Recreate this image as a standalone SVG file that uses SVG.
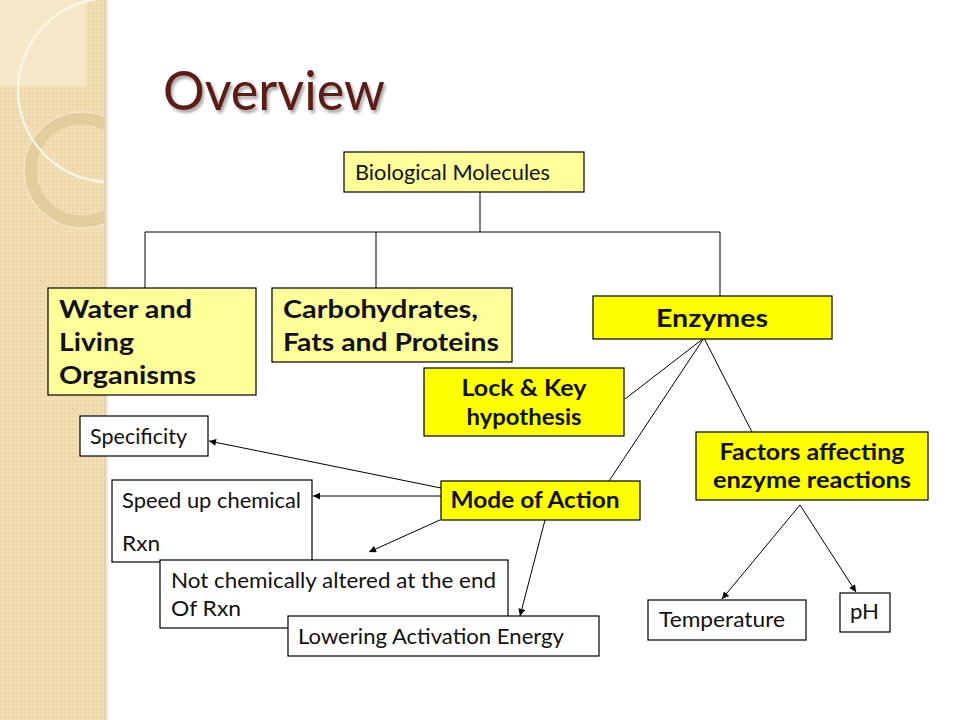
<svg xmlns="http://www.w3.org/2000/svg" width="960" height="720" viewBox="0 0 960 720">
  <defs>
    <pattern id="dots" width="4" height="4" patternUnits="userSpaceOnUse">
      <rect width="4" height="4" fill="#f1deb2"/>
      <rect width="2" height="2" fill="#ead5a4"/>
    </pattern>
    <linearGradient id="edge" x1="0" x2="1" y1="0" y2="0">
      <stop offset="0" stop-color="#d9c9a6"/>
      <stop offset="1" stop-color="#ffffff"/>
    </linearGradient>
    <clipPath id="panelClip"><rect x="0" y="0" width="105" height="720"/></clipPath>
    <filter id="shadow" x="-10%" y="-10%" width="130%" height="140%">
      <feDropShadow dx="2" dy="3" stdDeviation="1.5" flood-color="#000" flood-opacity="0.35"/>
    </filter>
    <marker id="arrow" viewBox="0 0 10 10" refX="10" refY="5" markerWidth="8" markerHeight="7" markerUnits="userSpaceOnUse" orient="auto">
      <path d="M0,0 L10,5 L0,10 z" fill="#000"/>
    </marker>
    <style>
      .box { stroke: #000; stroke-width: 1.2; }
      .pale { fill: #ffff99; }
      .yel { fill: #ffff00; }
      .white { fill: #ffffff; }
      .t { font-family: Lato, "Open Sans", "Liberation Sans", sans-serif; fill: #111; }
      .r { font-size: 21px; }
      .b { font-weight: bold; }
      .b1 { font-size: 25px; }
      .b2 { font-size: 22px; }
      .conn line, .conn polyline { stroke: #000; stroke-width: 1; fill: none; }
      .arr { marker-end: url(#arrow); }
    </style>
  </defs>

  <rect width="960" height="720" fill="#ffffff"/>

  <!-- decorative side panel -->
  <g id="panel">
    <rect x="0" y="0" width="105" height="720" fill="url(#dots)"/>
    <g clip-path="url(#panelClip)">
      <rect x="0" y="0" width="86" height="86" fill="#f6ead0" opacity="0.8"/>
      <circle cx="82" cy="170" r="52" fill="none" stroke="#e2cd9c" stroke-width="13"/>
      <circle cx="82" cy="170" r="58" fill="none" stroke="#f3e6c8" stroke-width="1.5"/>
      <circle cx="110" cy="90" r="92" fill="none" stroke="#fbf5e6" stroke-width="2.5"/>
    </g>
    <rect x="104" y="0" width="5" height="720" fill="url(#edge)"/>
  </g>

  <!-- title -->
  <text id="title" x="163" y="110" font-family="Lato, 'Open Sans', 'Liberation Sans', sans-serif" font-size="54" fill="#5b1f13" filter="url(#shadow)" textLength="222" lengthAdjust="spacingAndGlyphs">Overview</text>

  <!-- connectors -->
  <g id="connectors" class="conn">
    <polyline points="480,192 480,232"/>
    <polyline points="145,288 145,232 720,232 720,296"/>
    <line x1="376" y1="232" x2="376" y2="288"/>
    <line x1="704" y1="338" x2="625" y2="399"/>
    <line x1="704" y1="338" x2="609" y2="481"/>
    <line x1="704" y1="338" x2="752" y2="432"/>
    <line class="arr" x1="800" y1="505" x2="722" y2="599"/>
    <line class="arr" x1="800" y1="505" x2="856" y2="592"/>
    <line class="arr" x1="441" y1="488" x2="209" y2="441"/>
    <line class="arr" x1="441" y1="496" x2="313" y2="496"/>
    <line class="arr" x1="440" y1="520" x2="369" y2="552"/>
    <line class="arr" x1="545" y1="520" x2="520" y2="616"/>
  </g>

  <!-- nodes -->
  <g id="bio">
    <rect class="box pale" x="344" y="152" width="240" height="40"/>
    <text class="t r" x="355" y="180" textLength="195" lengthAdjust="spacingAndGlyphs">Biological Molecules</text>
  </g>
  <g id="water">
    <rect class="box pale" x="48" y="288" width="208" height="107"/>
    <text class="t b b1" x="59" y="318" textLength="133" lengthAdjust="spacingAndGlyphs">Water and</text>
    <text class="t b b1" x="59" y="351" textLength="75" lengthAdjust="spacingAndGlyphs">Living</text>
    <text class="t b b1" x="59" y="384" textLength="137" lengthAdjust="spacingAndGlyphs">Organisms</text>
  </g>
  <g id="carbs">
    <rect class="box pale" x="272" y="288" width="240" height="74"/>
    <text class="t b b1" x="283" y="318" textLength="195" lengthAdjust="spacingAndGlyphs">Carbohydrates,</text>
    <text class="t b b1" x="283" y="351" textLength="216" lengthAdjust="spacingAndGlyphs">Fats and Proteins</text>
  </g>
  <g id="enzymes">
    <rect class="box yel" x="593" y="296" width="239" height="43"/>
    <text class="t b b1" x="712" y="327" text-anchor="middle" textLength="112" lengthAdjust="spacingAndGlyphs">Enzymes</text>
  </g>
  <g id="lockkey">
    <rect class="box yel" x="424" y="368" width="200" height="68"/>
    <text class="t b b2" x="524" y="396" text-anchor="middle" textLength="125" lengthAdjust="spacingAndGlyphs">Lock &amp; Key</text>
    <text class="t b b2" x="524" y="425" text-anchor="middle" textLength="115" lengthAdjust="spacingAndGlyphs">hypothesis</text>
  </g>
  <g id="specificity">
    <rect class="box white" x="80" y="416" width="128" height="40"/>
    <text class="t r" x="90" y="444" textLength="97" lengthAdjust="spacingAndGlyphs">Specificity</text>
  </g>
  <g id="speedup">
    <rect class="box white" x="112" y="480" width="200" height="82"/>
    <text class="t r" x="122" y="508" textLength="179" lengthAdjust="spacingAndGlyphs">Speed up chemical</text>
    <text class="t r" x="122" y="551" textLength="38" lengthAdjust="spacingAndGlyphs">Rxn</text>
  </g>
  <g id="mode">
    <rect class="box yel" x="441" y="481" width="199" height="39"/>
    <text class="t b b2" x="535" y="508" text-anchor="middle" textLength="169" lengthAdjust="spacingAndGlyphs">Mode of Action</text>
  </g>
  <g id="notaltered">
    <rect class="box white" x="160" y="560" width="348" height="68"/>
    <text class="t r" x="171" y="588" textLength="325" lengthAdjust="spacingAndGlyphs">Not chemically altered at the end</text>
    <text class="t r" x="171" y="616" textLength="70" lengthAdjust="spacingAndGlyphs">Of Rxn</text>
  </g>
  <g id="lowering">
    <rect class="box white" x="288" y="616" width="311" height="40"/>
    <text class="t r" x="298" y="644" textLength="266" lengthAdjust="spacingAndGlyphs">Lowering Activation Energy</text>
  </g>
  <g id="factors">
    <rect class="box yel" x="696" y="432" width="232" height="68"/>
    <text class="t b b2" x="812" y="460" text-anchor="middle" textLength="185" lengthAdjust="spacingAndGlyphs">Factors affecting</text>
    <text class="t b b2" x="812" y="488" text-anchor="middle" textLength="198" lengthAdjust="spacingAndGlyphs">enzyme reactions</text>
  </g>
  <g id="temperature">
    <rect class="box white" x="648" y="600" width="158" height="40"/>
    <text class="t r" x="659" y="627" textLength="126" lengthAdjust="spacingAndGlyphs">Temperature</text>
  </g>
  <g id="ph">
    <rect class="box white" x="840" y="593" width="50" height="39"/>
    <text class="t r" x="850" y="619" textLength="29" lengthAdjust="spacingAndGlyphs">pH</text>
  </g>
</svg>
